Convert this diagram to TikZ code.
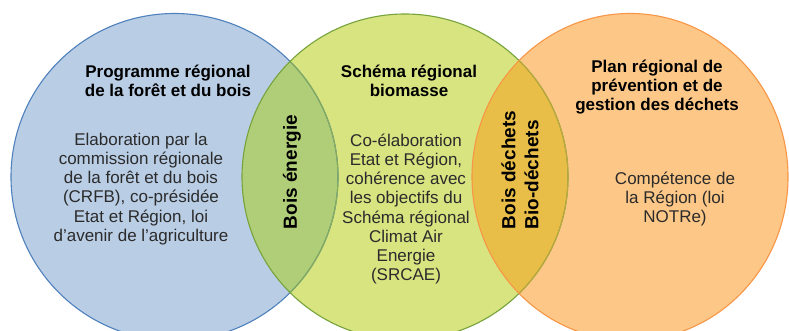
\documentclass[tikz,border=0pt]{standalone}
\usepackage{fontspec}
\setmainfont{Liberation Sans}
\definecolor{blueF}{HTML}{B9CDE5}
\definecolor{blueD}{HTML}{4F81BD}
\definecolor{greenF}{HTML}{D7E480}
\definecolor{greenD}{HTML}{77A33C}
\definecolor{orangeF}{HTML}{FDC887}
\definecolor{orangeD}{HTML}{F79646}
\definecolor{bgO}{HTML}{B0CE78}
\definecolor{goO}{HTML}{E9BE48}
\definecolor{bgLine}{HTML}{86AE55}
\definecolor{goLine}{HTML}{BDA83E}
\definecolor{bodyText}{HTML}{2B2B2B}
\tikzset{
  bodytext/.style={font=\fontsize{17}{19.2}\selectfont, text=bodyText, align=center, inner sep=0pt},
  titletext/.style={font=\fontsize{17}{19.2}\selectfont\bfseries, text=black, align=center, inner sep=0pt},
  vlabel/.style={font=\fontsize{19}{23}\selectfont\bfseries, text=black, align=left, rotate=90, inner sep=0pt},
  rim/.style={line width=1.1pt}
}
\begin{document}
\begin{tikzpicture}[x=1pt,y=1pt]
\useasboundingbox (0,0) rectangle (789,-331);
\fill[white] (0,0) rectangle (789,-331);
\clip (0,0) rectangle (789,-331);
% fills
\fill[blueF] (174.5,-177) circle[radius=163.5];
\fill[greenF] (405,-177) circle[radius=163];
\fill[orangeF] (630,-177) ellipse[x radius=158, y radius=163.5];
% overlaps
\begin{scope}
  \clip (405,-177) circle[radius=163];
  \fill[bgO] (174.5,-177) circle[radius=163.5];
\end{scope}
\begin{scope}
  \clip (630,-177) ellipse[x radius=158, y radius=163.5];
  \fill[goO] (405,-177) circle[radius=163];
\end{scope}
% rims
\draw[rim, blueD] (174.5,-177) circle[radius=163.5];
\begin{scope}
  \clip (405,-177) circle[radius=163];
  \draw[rim, bgLine] (174.5,-177) circle[radius=163.5];
\end{scope}
\draw[rim, greenD] (405,-177) circle[radius=163];
\begin{scope}
  \clip (630,-177) ellipse[x radius=158, y radius=163.5];
  \draw[rim, goLine] (405,-177) circle[radius=163];
\end{scope}
\draw[rim, orangeD] (630,-177) ellipse[x radius=158, y radius=163.5];
% texts
\node[titletext] (t1) at (168,-81) {Programme régional\\de la forêt et du bois};
\node[bodytext] (b1) at (141,-189) {Elaboration par la\\commission régionale\\de la forêt et du bois\\(CRFB), co-présidée\\Etat et Région, loi\\d’avenir de l’agriculture};
\node[titletext] (t2) at (409,-81) {Schéma régional\\biomasse};
\node[bodytext] (b2) at (406,-209) {Co-élaboration\\Etat et Région,\\cohérence avec\\les objectifs du\\Schéma régional\\Climat Air\\Energie\\(SRCAE)};
\node[titletext] (t3) at (657,-87) {Plan régional de\\prévention et de\\gestion des déchets};
\node[bodytext] (b3) at (675,-199) {Compétence de\\la Région (loi\\NOTRe)};
\node[vlabel] (v1) at (292,-172) {Bois énergie};
\node[vlabel] (v2) at (520,-170) {Bois déchets\\Bio-déchets};
\end{tikzpicture}
\end{document}
